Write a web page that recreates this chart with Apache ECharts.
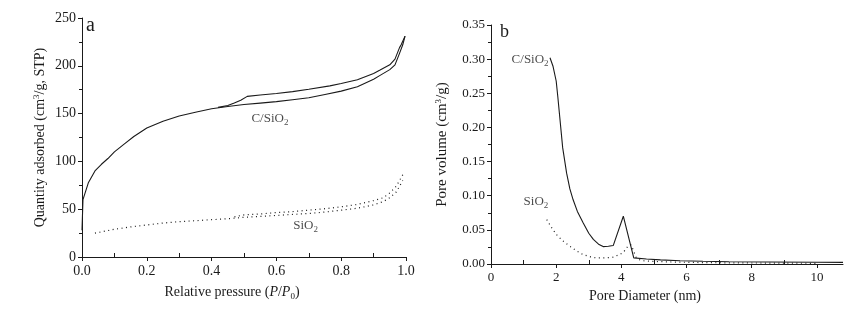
<!DOCTYPE html>
<html>
<head>
<meta charset="utf-8">
<script src="https://cdn.jsdelivr.net/npm/echarts@6/dist/echarts.min.js"></script>
<style>
  html, body { margin: 0; padding: 0; background: #fff; }
  #chart { width: 867px; height: 316px; }
</style>
</head>
<body>
<div id="chart"></div>
<script>
// panel a: N2 isotherms (x = P/P0, y = cm3/g STP)
var csio2Ads = [[0,28],[0.003,60],[0.02,78],[0.04,90],[0.06,97],[0.08,103],[0.1,110],[0.13,118],[0.16,126],[0.2,135],[0.25,142],[0.3,147.5],[0.35,151.5],[0.4,155],[0.45,157.5],[0.5,159.5],[0.55,161],[0.6,162.5],[0.65,164.5],[0.7,166.5],[0.75,170],[0.8,173.5],[0.85,178],[0.9,186],[0.92,190],[0.95,196],[0.966,201],[0.98,213],[0.99,222],[0.997,231]];
var csio2Des = [[0.997,231],[0.985,222],[0.98,219],[0.966,207],[0.95,201],[0.92,195.5],[0.9,192],[0.85,185.5],[0.8,181.5],[0.765,179],[0.7,175.5],[0.65,173],[0.6,171],[0.55,169.5],[0.51,168],[0.49,164],[0.47,161],[0.45,158.5],[0.42,156.5]];
var sio2Ads = [[0.04,25],[0.07,27],[0.1,29],[0.15,31.5],[0.2,33.5],[0.25,35.5],[0.3,37],[0.35,38],[0.4,39],[0.45,40],[0.5,41.5],[0.55,42.5],[0.6,43.5],[0.65,44.5],[0.7,45.5],[0.75,47],[0.8,49],[0.85,51],[0.9,54.5],[0.93,58],[0.95,62],[0.97,68],[0.99,80]];
var sio2Des = [[0.99,86],[0.97,74],[0.95,67],[0.93,62],[0.9,59],[0.85,55],[0.8,52.5],[0.75,50.5],[0.7,49],[0.65,47.5],[0.6,46.5],[0.55,45],[0.5,44],[0.47,42]];

// panel b: pore size distribution (x = nm, y = cm3/g)
var csio2Pore = [[1.81,0.302],[1.9,0.29],[2.0,0.268],[2.05,0.245],[2.11,0.215],[2.2,0.17],[2.32,0.133],[2.42,0.11],[2.52,0.094],[2.65,0.077],[2.83,0.06],[3.0,0.045],[3.14,0.036],[3.3,0.029],[3.44,0.0255],[3.6,0.026],[3.75,0.027],[4.06,0.07],[4.38,0.009],[4.77,0.0073],[5.2,0.006],[5.8,0.0048],[6.5,0.004],[7.3,0.0034],[8.5,0.0029],[10,0.0025],[10.8,0.0024]];
var sio2Pore = [[1.71,0.065],[1.85,0.054],[2.01,0.043],[2.2,0.034],[2.42,0.026],[2.6,0.02],[2.83,0.0137],[3.05,0.0105],[3.24,0.0088],[3.5,0.009],[3.75,0.01],[3.95,0.014],[4.06,0.017],[4.2,0.026],[4.3,0.028],[4.45,0.01],[4.6,0.005],[4.88,0.004],[5.5,0.003],[6.5,0.002],[8,0.0015],[10,0.001]];

// in-between x ticks (drawn upward, inside the plot)
var minorTicksA = [0.1, 0.3, 0.5, 0.7, 0.9];
var minorTicksB = [1, 3, 5, 7, 9];

// annotation positions in data units
var labelsA = [[0.58,144.4,'c'],[0.69,32.4,'s']];
var labelsB = [[1.2,0.299,'c'],[1.38,0.091,'s']];

var FONT = 'Liberation Serif';
var ink = '#1a1a1a';

var rich = {
  n: { fontFamily: FONT, fontSize: 14, color: ink },
  m: { fontFamily: FONT, fontSize: 15, color: ink },
  i: { fontFamily: FONT, fontSize: 14, color: ink, fontStyle: 'italic' },
  s: { fontFamily: FONT, fontSize: 9, color: ink, padding: [8, 0, 0, 0] },
  u: { fontFamily: FONT, fontSize: 9, color: ink, padding: [0, 0, 8, 0] },
  t: { fontFamily: FONT, fontSize: 13, color: ink },
  ts: { fontFamily: FONT, fontSize: 9, color: ink, padding: [7, 0, 0, 0] }
};

function labelText(k) {
  return k === 'c' ? '{t|C/SiO}{ts|2}' : '{t|SiO}{ts|2}';
}

var axisLine = { lineStyle: { color: ink, width: 1 } };
var tickOut = { inside: false, length: 4, lineStyle: { color: ink } };
var minorOut = { show: true, splitNumber: 2, length: 3, lineStyle: { color: ink } };

var chart = echarts.init(document.getElementById('chart'));

function lineSeries(data, xi, dotted) {
  return {
    type: 'line', xAxisIndex: xi, yAxisIndex: xi, data: data,
    showSymbol: false, smooth: false, silent: true,
    lineStyle: dotted ? { color: ink, width: 1.2, type: [1, 3.5] } : { color: ink, width: 1.1 }
  };
}

function textSeries(data, xi) {
  return {
    type: 'scatter', xAxisIndex: xi, yAxisIndex: xi, symbolSize: 0, silent: true,
    data: data.map(function (d) { return [d[0], d[1]]; }),
    label: {
      show: true, position: 'inside',
      formatter: function (p) { return labelText(data[p.dataIndex][2]); },
      rich: rich
    }
  };
}

// tick-only overlay axis for the upward x ticks
function tickAxis(grid, max, values) {
  return {
    gridIndex: grid, type: 'value', min: 0, max: max, position: 'bottom',
    axisLine: { show: false }, axisLabel: { show: false }, splitLine: { show: false },
    axisTick: { show: true, inside: true, length: 4, customValues: values, lineStyle: { color: ink } }
  };
}

var option = {
  animation: false,
  grid: [
    { left: 82, right: 461, top: 18, bottom: 59 },
    { left: 491, right: 24, top: 25, bottom: 52 }
  ],
  xAxis: [
    {
      gridIndex: 0, type: 'value', min: 0, max: 1, interval: 0.2,
      axisLine: axisLine, axisTick: tickOut,
      splitLine: { show: false },
      axisLabel: { margin: 7, fontFamily: FONT, fontSize: 14, color: ink, formatter: function (v) { return v.toFixed(1); } },
      name: '{n|Relative pressure (}{i|P}{n|/}{i|P}{s|0}{n|)}',
      nameLocation: 'middle', nameGap: 27,
      nameTextStyle: { rich: rich, padding: [0, 24, 0, 0] }
    },
    {
      gridIndex: 1, type: 'value', min: 0, max: 10.8, interval: 2,
      axisLine: axisLine, axisTick: tickOut,
      splitLine: { show: false },
      axisLabel: { margin: 7, showMaxLabel: false, fontFamily: FONT, fontSize: 13, color: ink },
      name: '{n|Pore Diameter (nm)}',
      nameLocation: 'middle', nameGap: 22,
      nameTextStyle: { rich: rich, padding: [0, 44, 0, 0] }
    },
    tickAxis(0, 1, minorTicksA),
    tickAxis(1, 10.8, minorTicksB)
  ],
  yAxis: [
    {
      gridIndex: 0, type: 'value', min: 0, max: 250, interval: 50,
      axisLine: axisLine, axisTick: tickOut, minorTick: minorOut,
      splitLine: { show: false },
      axisLabel: { margin: 6, fontFamily: FONT, fontSize: 14, color: ink },
      name: '{n|Quantity adsorbed (cm}{u|3}{n|/g, STP)}',
      nameLocation: 'middle', nameGap: 33, nameRotate: 90,
      nameTextStyle: { rich: rich }
    },
    {
      gridIndex: 1, type: 'value', min: 0, max: 0.35, interval: 0.05,
      axisLine: axisLine, axisTick: tickOut, minorTick: minorOut,
      splitLine: { show: false },
      axisLabel: { margin: 6, fontFamily: FONT, fontSize: 13, color: ink, formatter: function (v) { return v.toFixed(2); } },
      name: '{m|Pore volume (cm}{u|3}{m|/g)}',
      nameLocation: 'middle', nameGap: 40, nameRotate: 90,
      nameTextStyle: { rich: rich }
    }
  ],
  graphic: [
    { type: 'text', left: 86, top: 16, style: { text: 'a', font: '20px "Liberation Serif"', fill: ink } },
    { type: 'text', left: 500, top: 23, style: { text: 'b', font: '18px "Liberation Serif"', fill: ink } }
  ],
  series: [
    lineSeries(csio2Ads, 0, false),
    lineSeries(csio2Des, 0, false),
    lineSeries(sio2Ads, 0, true),
    lineSeries(sio2Des, 0, true),
    textSeries(labelsA, 0),
    lineSeries(csio2Pore, 1, false),
    lineSeries(sio2Pore, 1, true),
    textSeries(labelsB, 1)
  ]
};

chart.setOption(option);
</script>
</body>
</html>
